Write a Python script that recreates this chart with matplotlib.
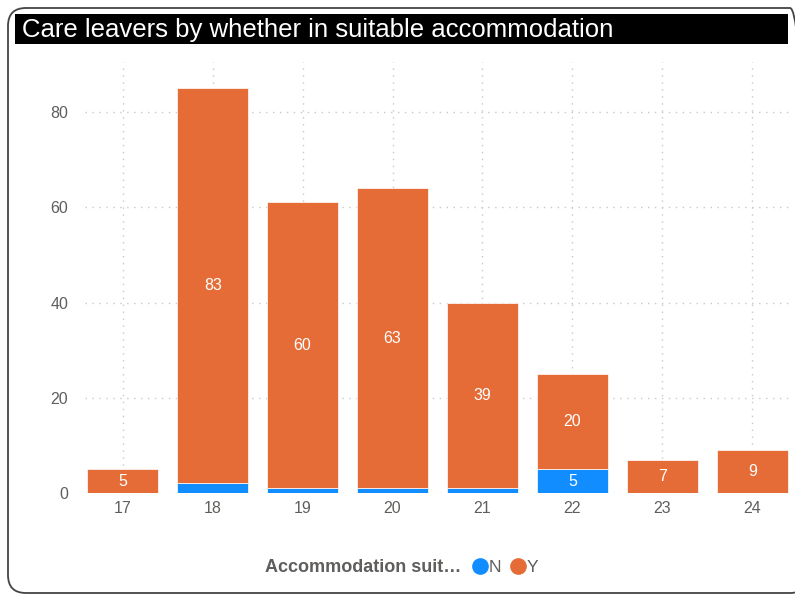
import matplotlib
matplotlib.use("Agg")
import matplotlib.pyplot as plt
import numpy as np
from matplotlib.patches import FancyBboxPatch, Rectangle
from matplotlib.lines import Line2D
from matplotlib.transforms import IdentityTransform

plt.rcParams["font.family"] = ["Liberation Sans", "DejaVu Sans"]

# ── data ──
ages = ["17", "18", "19", "20", "21", "22", "23", "24"]
n_vals = [0, 2, 1, 1, 1, 5, 0, 0]
y_vals = [5, 83, 60, 63, 39, 20, 7, 9]
y_ticks = [0, 20, 40, 60, 80]

BLUE = "#118DFF"
ORANGE = "#E66C37"
GREY = "#605E5C"

W, H = 795, 595
fig = plt.figure(figsize=(W / 100, H / 100), dpi=100)

# outer rounded frame + title bar (pixel coords)
frame = FancyBboxPatch((8, 2), 800, 585, boxstyle="round,pad=0,rounding_size=18",
                       transform=IdentityTransform(), fill=False,
                       edgecolor="#444444", linewidth=1.3)
fig.patches.append(frame)
bar = Rectangle((15, H - 44), 773, 30, transform=IdentityTransform(),
                facecolor="black", edgecolor="none")
fig.patches.append(bar)
fig.text(22 / W, 1 - 30 / H, "Care leavers by whether in suitable accommodation",
         color="white", fontsize=18.5, ha="left", va="center")

ax = fig.add_axes([85 / W, 1 - 493 / H, (790 - 85) / W, (493 - 62) / H])
x = np.arange(len(ages))
b1 = ax.bar(x, n_vals, width=0.79, color=BLUE, edgecolor="white", linewidth=0.5, zorder=3)
b2 = ax.bar(x, y_vals, width=0.79, bottom=n_vals, color=ORANGE, edgecolor="white",
            linewidth=0.5, zorder=3)
ax.bar_label(b1, labels=[str(v) if v >= 3 else "" for v in n_vals],
             label_type="center", color="white", fontsize=11.5, zorder=4)
ax.bar_label(b2, labels=[str(v) if v >= 3 else "" for v in y_vals],
             label_type="center", color="white", fontsize=11.5, zorder=4)

ax.set_xlim(-0.42, len(ages) - 1 + 0.42)
ax.set_ylim(0, 90.5)
ax.set_xticks(x)
ax.set_xticklabels(ages)
ax.set_yticks(y_ticks)
ax.tick_params(axis="both", length=0, labelsize=11.5, colors=GREY)
ax.tick_params(axis="y", pad=12)
ax.tick_params(axis="x", pad=6)
ax.grid(True, linestyle=(0, (1, 4)), color="#C8C8C8", linewidth=1.0, zorder=0)
for s in ax.spines.values():
    s.set_visible(False)

# legend
fig.text(461 / W, 1 - 567 / H, "Accommodation suit\u2026", color=GREY, fontsize=13,
         fontweight="bold", ha="right", va="center")
handles = [Line2D([], [], marker="o", linestyle="none", markersize=11,
                  markerfacecolor=c, markeredgecolor=c) for c in (BLUE, ORANGE)]
leg = fig.legend(handles, ["N", "Y"], loc="center left", bbox_to_anchor=(468 / W, 1 - 567 / H),
                 ncol=2, frameon=False, handletextpad=-0.2, columnspacing=0.25,
                 handlelength=1.4, fontsize=12.5, borderaxespad=0, borderpad=0)
for t in leg.get_texts():
    t.set_color(GREY)

fig.savefig("out.png", dpi=100)
